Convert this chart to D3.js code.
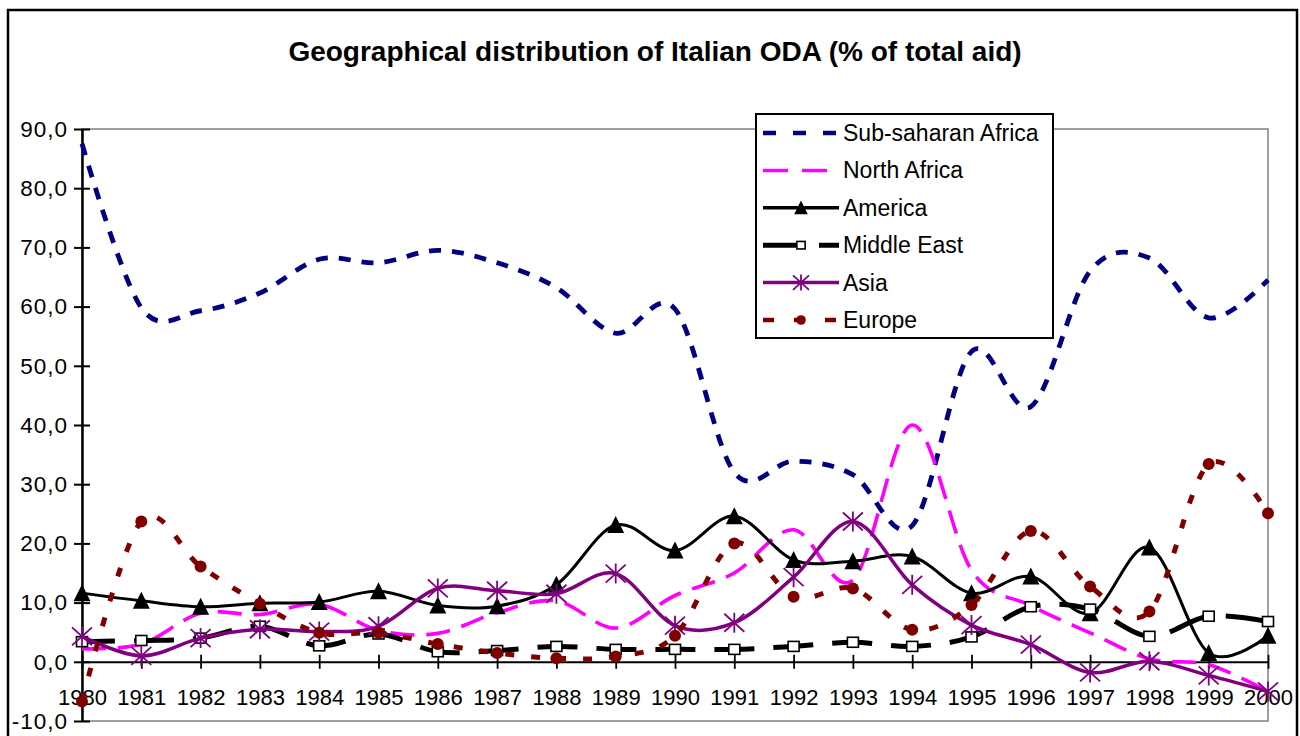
<!DOCTYPE html>
<html>
<head>
<meta charset="utf-8">
<script src="https://cdn.jsdelivr.net/npm/d3@7"></script>
<style>
  html, body { margin: 0; padding: 0; background: #fff; }
  svg { display: block; font-family: "Liberation Sans", Arial, sans-serif; }
</style>
</head>
<body>
<svg id="chart" width="1300" height="736"></svg>
<script>
// Geographical distribution of Italian ODA, share of total aid (%), 1980-2000
const years = [1980, 1981, 1982, 1983, 1984, 1985, 1986, 1987, 1988, 1989, 1990,
               1991, 1992, 1993, 1994, 1995, 1996, 1997, 1998, 1999, 2000];
const yTicks = [-10, 0, 10, 20, 30, 40, 50, 60, 70, 80, 90];

const subSaharanAfrica = [87.5, 59.8, 59.3, 62.3, 68.0, 67.4, 69.5, 67.4, 63.2, 55.5, 59.6,
                          32.0, 33.9, 31.6, 23.0, 52.4, 43.1, 66.0, 68.2, 58.1, 64.5];
const northAfrica      = [2.2, 3.0, 8.2, 8.0, 9.7, 5.3, 4.8, 8.3, 10.3, 5.7, 11.2,
                          15.0, 22.3, 13.8, 40.0, 15.5, 9.5, 4.9, 0.5, -0.5, -5.0];
const america          = [11.6, 10.3, 9.3, 9.9, 10.1, 11.9, 9.5, 9.4, 13.0, 23.1, 18.8,
                          24.6, 17.2, 17.0, 17.8, 11.6, 14.4, 8.2, 19.3, 1.5, 4.4];
const middleEast       = [3.4, 3.6, 4.0, 6.0, 2.7, 4.7, 1.7, 1.9, 2.6, 2.1, 2.1,
                          2.1, 2.6, 3.3, 2.6, 4.2, 9.3, 8.9, 4.3, 7.7, 6.8];
const asia             = [4.3, 1.0, 4.0, 5.5, 5.1, 6.0, 12.4, 12.0, 11.5, 14.9, 6.1,
                          6.6, 14.3, 23.7, 13.0, 6.2, 2.9, -1.8, 0.1, -2.3, -5.0];
const europe           = [-6.7, 23.7, 16.1, 9.8, 4.9, 4.9, 3.0, 1.5, 0.6, 0.9, 4.4,
                          20.0, 11.0, 12.4, 5.4, 9.6, 22.1, 12.7, 8.5, 33.4, 25.1];

const seriesNames = ["Sub-saharan Africa", "North Africa", "America", "Middle East", "Asia", "Europe"];
const seriesValues = [subSaharanAfrica, northAfrica, america, middleEast, asia, europe];

// line and marker styling per series
const styles = [
  { color: "#000080", width: 4.8, dash: "12,11", marker: null },
  { color: "#FF00FF", width: 3.6, dash: "24,12", marker: null },
  { color: "#000000", width: 3,   dash: null,    marker: "triangle" },
  { color: "#000000", width: 5,   dash: "40,19", offset: 7, marker: "square" },
  { color: "#800080", width: 3.5, dash: null,    marker: "star" },
  { color: "#800000", width: 5,   dash: "9,17",  marker: "circle" }
];

const svg = d3.select("#chart");
const W = 1300, H = 736;
const plot = { left: 82, right: 1268, top: 129, bottom: 721 };

const x = d3.scaleLinear().domain([1980, 2000]).range([plot.left, plot.right]);
const y = d3.scaleLinear().domain([-10, 90]).range([plot.bottom, plot.top]);

const locale = d3.formatLocale({ decimal: ",", thousands: ".", grouping: [3], currency: ["", ""], minus: "-" });
const fmt = locale.format(".1f");

// background and chart frame
svg.append("rect").attr("width", W).attr("height", H).attr("fill", "#fff");
svg.append("rect")
  .attr("x", 8).attr("y", 10).attr("width", 1289).attr("height", 800)
  .attr("fill", "none").attr("stroke", "#000").attr("stroke-width", 2.5);

// title
svg.append("text")
  .attr("x", 655).attr("y", 61)
  .attr("text-anchor", "middle")
  .attr("font-size", 28).attr("font-weight", "bold")
  .text("Geographical distribution of Italian ODA (% of total aid)");

// plot area border
svg.append("rect")
  .attr("x", plot.left).attr("y", plot.top)
  .attr("width", plot.right - plot.left).attr("height", plot.bottom - plot.top)
  .attr("fill", "none").attr("stroke", "#808080").attr("stroke-width", 1.5);

// y axis
const yAxis = svg.append("g")
  .attr("transform", `translate(${plot.left},0)`)
  .call(d3.axisLeft(y).tickValues(yTicks).tickFormat(fmt).tickSize(8).tickPadding(6).tickSizeOuter(0));
yAxis.select(".domain").attr("stroke", "#000").attr("stroke-width", 2.5);
yAxis.selectAll(".tick line").attr("x1", 8).attr("stroke", "#000").attr("stroke-width", 2);
yAxis.selectAll(".tick text").attr("font-size", 22.5).attr("fill", "#000")
  .attr("letter-spacing", 1)
  .attr("font-family", "'Liberation Sans', Arial, sans-serif");

// x axis on the zero line
const xAxis = svg.append("g")
  .attr("transform", `translate(0,${y(0)})`)
  .call(d3.axisBottom(x).tickValues(years).tickFormat(d3.format("d")).tickSize(7).tickSizeOuter(0));
xAxis.select(".domain").attr("stroke", "#000").attr("stroke-width", 2);
xAxis.selectAll(".tick line").attr("y1", -7).attr("stroke", "#000").attr("stroke-width", 1.8);
xAxis.selectAll(".tick text").attr("font-size", 22).attr("fill", "#000")
  .attr("font-family", "'Liberation Sans', Arial, sans-serif")
  .attr("dy", null).attr("y", 43);

// marker drawing
function drawMarker(g, type, cx, cy, color, scale) {
  const s = scale || 1;
  if (type === "triangle") {
    g.append("path")
      .attr("d", `M${cx},${cy - 9 * s}L${cx + 8.5 * s},${cy + 8 * s}L${cx - 8.5 * s},${cy + 8 * s}Z`)
      .attr("fill", "#000");
  } else if (type === "square") {
    g.append("rect")
      .attr("x", cx - 5.5 * s).attr("y", cy - 5 * s)
      .attr("width", 11 * s).attr("height", 10 * s)
      .attr("fill", "#fff").attr("stroke", "#000").attr("stroke-width", 1.6);
  } else if (type === "star") {
    const r = 10 * s, ry = 9 * s;
    g.append("path")
      .attr("d", `M${cx - r},${cy - ry}L${cx + r},${cy + ry}M${cx - r},${cy + ry}L${cx + r},${cy - ry}M${cx},${cy - r}L${cx},${cy + r}`)
      .attr("stroke", color).attr("stroke-width", 1.8).attr("fill", "none");
  } else if (type === "circle") {
    g.append("circle").attr("cx", cx).attr("cy", cy).attr("r", 6 * s).attr("fill", color);
  }
}

// series lines and markers
const line = d3.line()
  .x((d, i) => x(years[i]))
  .y(d => y(d))
  .curve(d3.curveCardinal.tension(0));

const seriesLayer = svg.append("g");
seriesValues.forEach((vals, k) => {
  const st = styles[k];
  const g = seriesLayer.append("g");
  const p = g.append("path")
    .attr("d", line(vals))
    .attr("fill", "none")
    .attr("stroke", st.color)
    .attr("stroke-width", st.width)
    .attr("stroke-linejoin", "round");
  if (st.dash) p.attr("stroke-dasharray", st.dash).attr("stroke-dashoffset", st.offset || 0);
  if (st.marker) {
    vals.forEach((v, i) => drawMarker(g, st.marker, x(years[i]), y(v), st.color));
  }
});

// legend
const legend = svg.append("g");
legend.append("rect")
  .attr("x", 756).attr("y", 114).attr("width", 297).attr("height", 224)
  .attr("fill", "#fff").attr("stroke", "#000").attr("stroke-width", 2);

const legendDash = ["13,17", "25,14", null, "37,19", null, "11,20"];
seriesNames.forEach((name, k) => {
  const st = styles[k];
  const cy = 133 + k * 37.4;
  const l = legend.append("line")
    .attr("x1", 763).attr("x2", 839).attr("y1", cy).attr("y2", cy)
    .attr("stroke", st.color)
    .attr("stroke-width", k === 3 ? 5 : (k === 0 || k === 5 ? 4.5 : 3.5));
  if (legendDash[k]) l.attr("stroke-dasharray", legendDash[k]);
  if (st.marker) drawMarker(legend, st.marker, 801, cy, st.color, st.marker === "square" ? 0.75 : 0.8);
  legend.append("text")
    .attr("x", 843).attr("y", cy + 8)
    .attr("font-size", 23).attr("fill", "#000")
    .text(name);
});
</script>
</body>
</html>
